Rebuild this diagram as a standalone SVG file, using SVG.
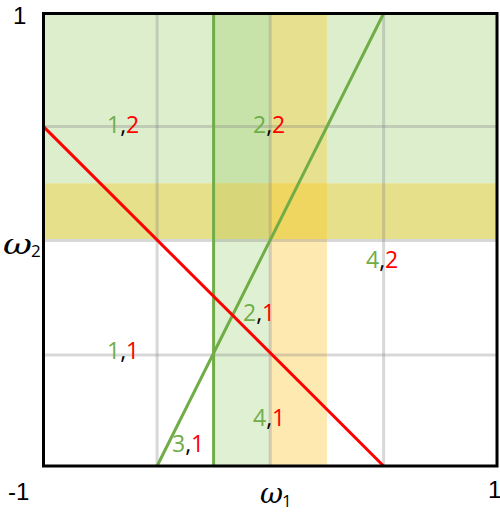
<svg xmlns="http://www.w3.org/2000/svg" width="500" height="512" viewBox="0 0 500 512">
<style>
.grid{stroke:#7f7f7f;stroke-opacity:.3;stroke-width:3;fill:none}
.lbl{font-family:"Open Sans","Liberation Sans",sans-serif;font-size:23px}
.ax{font-family:"Liberation Sans","Open Sans",sans-serif;font-size:24px;fill:#000}
.w{font-family:"DejaVu Serif","Liberation Serif",serif;font-style:italic;font-size:28px;fill:#000}
.sub{font-family:"Open Sans","Liberation Sans",sans-serif;font-size:17px;fill:#000}
.gt{fill:#70ad47}.rt{fill:#ff0000}.ct{fill:#000}
</style>
<rect width="500" height="512" fill="#fff"/>
<g id="regions">
<rect x="43.5" y="13.5" width="453.5" height="169.7" fill="#ddeecd"/>
<rect x="213.6" y="13.5" width="56.65" height="169.7" fill="#c8e3aa"/>
<rect x="270.25" y="13.5" width="56.65" height="169.7" fill="#e7e08f"/>
<rect x="43.5" y="183.2" width="453.5" height="55.8" fill="#e6e08a"/>
<rect x="213.6" y="183.2" width="56.65" height="55.8" fill="#d7d779"/>
<rect x="270.25" y="183.2" width="56.65" height="55.8" fill="#efd661"/>
<rect x="213.6" y="239" width="56.65" height="227" fill="#e0f0d3"/>
<rect x="270.25" y="239" width="56.65" height="227" fill="#fee9b1"/>
</g>
<g id="grid" class="grid">
<line x1="157.1" y1="13.5" x2="157.1" y2="466"/>
<line x1="270.25" y1="13.5" x2="270.25" y2="466"/>
<line x1="383.6" y1="13.5" x2="383.6" y2="466"/>
<line x1="43.5" y1="126.6" x2="497" y2="126.6"/>
<line x1="43.5" y1="240.5" x2="497" y2="240.5"/>
<line x1="43.5" y1="355" x2="497" y2="355"/>
</g>
<g id="connectors" fill="none" stroke-width="3">
<line x1="213.6" y1="13.5" x2="213.6" y2="466" stroke="#70ad47"/>
<line x1="157.1" y1="466" x2="383.6" y2="13.5" stroke="#70ad47"/>
<line x1="43.5" y1="126.6" x2="383.6" y2="466" stroke="#ff0000"/>
</g>
<rect id="frame" x="43.5" y="13.5" width="453.5" height="452.5" fill="none" stroke="#000" stroke-width="3"/>
<g id="labels" class="lbl">
<text id="l12" x="107" y="133"><tspan class="gt">1</tspan><tspan class="ct">,</tspan><tspan class="rt">2</tspan></text>
<text id="l22" x="253" y="133"><tspan class="gt">2</tspan><tspan class="ct">,</tspan><tspan class="rt">2</tspan></text>
<text id="l42" x="366" y="268"><tspan class="gt">4</tspan><tspan class="ct">,</tspan><tspan class="rt">2</tspan></text>
<text id="l21" x="243" y="321"><tspan class="gt">2</tspan><tspan class="ct">,</tspan><tspan class="rt">1</tspan></text>
<text id="l11" x="107" y="359"><tspan class="gt">1</tspan><tspan class="ct">,</tspan><tspan class="rt">1</tspan></text>
<text id="l31" x="172" y="452"><tspan class="gt">3</tspan><tspan class="ct">,</tspan><tspan class="rt">1</tspan></text>
<text id="l41" x="253" y="426"><tspan class="gt">4</tspan><tspan class="ct">,</tspan><tspan class="rt">1</tspan></text>
</g>
<g id="axes">
<text class="ax" x="13" y="24">1</text>
<text class="ax" x="8" y="500">-1</text>
<text class="ax" x="488" y="498">1</text>
<text class="w" x="3" y="254" textLength="29" lengthAdjust="spacingAndGlyphs">ω</text><text class="sub" x="31" y="257">2</text>
<text class="w" x="260" y="503" textLength="23" lengthAdjust="spacingAndGlyphs">ω</text><text class="sub" x="282" y="507">1</text>
</g>
</svg>
